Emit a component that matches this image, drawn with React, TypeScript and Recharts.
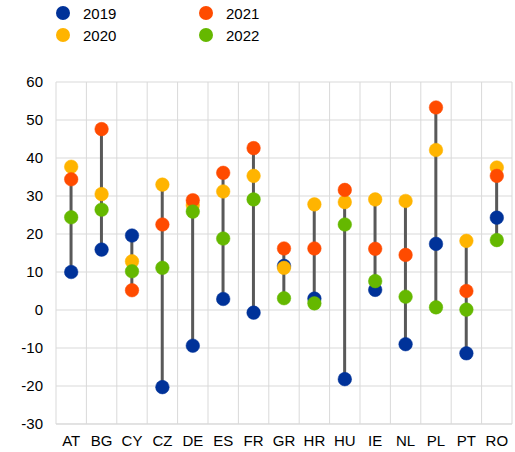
import { ComposedChart, Bar, Line, XAxis, YAxis, CartesianGrid } from 'recharts';

const countries = ['AT', 'BG', 'CY', 'CZ', 'DE', 'ES', 'FR', 'GR', 'HR', 'HU', 'IE', 'NL', 'PL', 'PT', 'RO'];
const v2019 = [10.0, 15.9, 19.6, -20.3, -9.4, 2.9, -0.7, 11.6, 3.0, -18.2, 5.3, -9.0, 17.4, -11.4, 24.3];
const v2020 = [37.7, 30.5, 12.8, 33.0, 27.6, 31.2, 35.3, 11.1, 27.8, 28.4, 29.1, 28.7, 42.1, 18.2, 37.5];
const v2021 = [34.4, 47.6, 5.2, 22.5, 28.9, 36.1, 42.6, 16.2, 16.2, 31.6, 16.1, 14.5, 53.3, 5.0, 35.3];
const v2022 = [24.4, 26.4, 10.2, 11.1, 25.9, 18.8, 29.1, 3.1, 1.75, 22.5, 7.6, 3.5, 0.7, 0.1, 18.4];
const yTicks = [-30, -20, -10, 0, 10, 20, 30, 40, 50, 60];

const series = [
  { key: 'y2019', name: '2019', color: '#003299' },
  { key: 'y2020', name: '2020', color: '#FFB400' },
  { key: 'y2021', name: '2021', color: '#FF4B00' },
  { key: 'y2022', name: '2022', color: '#65B800' },
];

const data = countries.map((c, i) => {
  const vals = [v2019[i], v2020[i], v2021[i], v2022[i]];
  return {
    country: c,
    y2019: v2019[i],
    y2020: v2020[i],
    y2021: v2021[i],
    y2022: v2022[i],
    range: [Math.min(...vals), Math.max(...vals)],
  };
});

const Stem = (props: any) => {
  const { x, y, width, height } = props;
  return <rect x={x + width / 2 - 1.5} y={y} width={3} height={height} fill="#595959" />;
};

const legendOrder = [series[0], series[2], series[1], series[3]];

export default function App() {
  return (
    <div style={{ position: 'absolute', left: 0, top: 0, width: 515, height: 452, fontFamily: 'Arial, "Liberation Sans", sans-serif' }}>
      <div style={{ position: 'absolute', left: 56, top: 4, width: 300 }}>
        {legendOrder.map((s, i) => (
          <div
            key={s.key}
            style={{
              position: 'absolute',
              left: (i % 2) * 143,
              top: Math.floor(i / 2) * 22,
              display: 'flex',
              alignItems: 'center',
              fontSize: 15,
              color: '#000',
              height: 18,
            }}
          >
            <span style={{ display: 'inline-block', width: 14, height: 14, borderRadius: 7, background: s.color, marginRight: 13 }} />
            {s.name}
          </div>
        ))}
      </div>
      <ComposedChart width={515} height={452} data={data} margin={{ top: 82, right: 3, left: 0, bottom: 0 }}>
        <CartesianGrid
          stroke="#d9d9d9"
          strokeWidth={1}
          verticalCoordinatesGenerator={({ offset }: any) =>
            Array.from({ length: countries.length + 1 }, (_, i) => offset.left + (offset.width * i) / countries.length)
          }
        />
        <XAxis
          dataKey="country"
          height={28}
          axisLine={{ stroke: '#d9d9d9' }}
          tickLine={false}
          tickMargin={5}
          tick={{ fontSize: 15, fill: '#000' }}
          interval={0}
        />
        <YAxis
          domain={[-30, 60]}
          ticks={yTicks}
          width={56}
          axisLine={false}
          tickLine={false}
          tickMargin={7}
          tick={{ fontSize: 15, fill: '#000' }}
        />
        <Bar dataKey="range" shape={<Stem />} isAnimationActive={false} />
        {series.map((s) => (
          <Line
            key={s.key}
            dataKey={s.key}
            stroke="none"
            dot={{ r: 6.8, fill: s.color, stroke: s.color, strokeWidth: 0.5 }}
            activeDot={false}
            isAnimationActive={false}
          />
        ))}
      </ComposedChart>
    </div>
  );
}
